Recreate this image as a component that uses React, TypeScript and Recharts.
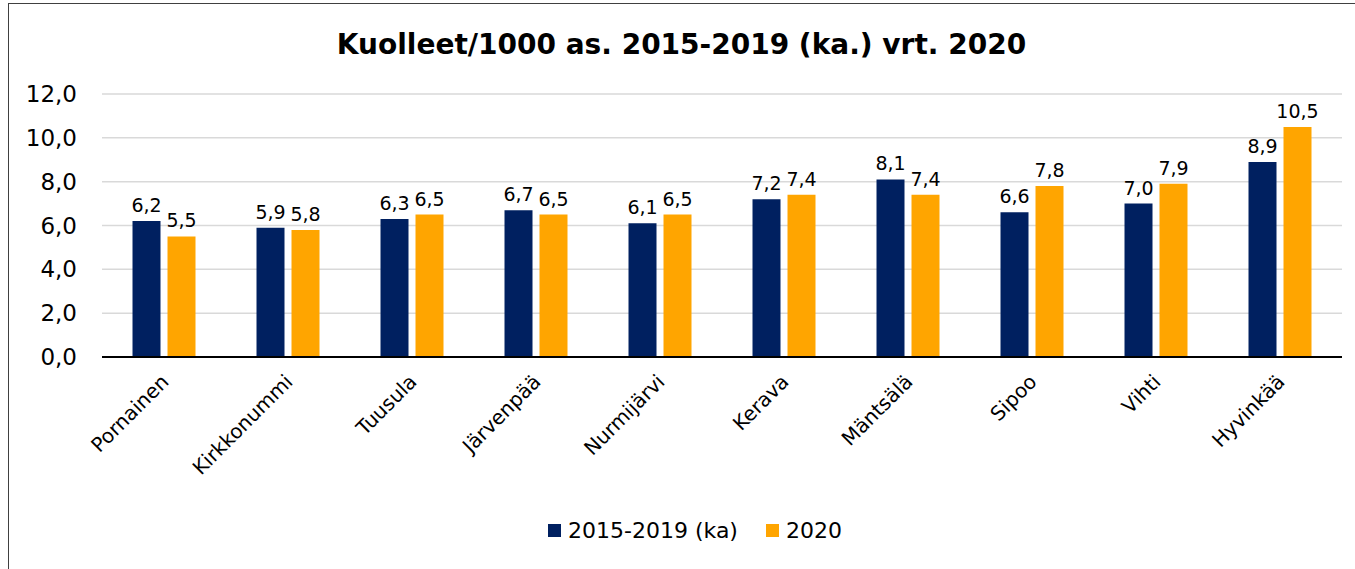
import React from "react";
import { BarChart, Bar, XAxis, YAxis, CartesianGrid, Legend, LabelList } from "recharts";

const categories = ["Pornainen", "Kirkkonummi", "Tuusula", "Järvenpää", "Nurmijärvi", "Kerava", "Mäntsälä", "Sipoo", "Vihti", "Hyvinkää"];
const avg2015_2019 = [6.2, 5.9, 6.3, 6.7, 6.1, 7.2, 8.1, 6.6, 7.0, 8.9];
const values2020 = [5.5, 5.8, 6.5, 6.5, 6.5, 7.4, 7.4, 7.8, 7.9, 10.5];
const yTicks = [0, 2, 4, 6, 8, 10, 12];
const seriesNames = ["2015-2019 (ka)", "2020"];

const data = categories.map((name, i) => ({ name, a: avg2015_2019[i], b: values2020[i] }));

const FONT = "'DejaVu Sans', Tahoma, sans-serif";
const NAVY = "#002060";
const ORANGE = "#FFA500";

const fmt = (v: any) => Number(v).toFixed(1).replace(".", ",");

const XTick = (props: any) => {
  const { x, y, payload } = props;
  const tx = x + 6;
  const ty = y + 18;
  return (
    <text
      x={tx}
      y={ty}
      transform={`rotate(-45, ${tx}, ${ty})`}
      textAnchor="end"
      fontSize={20}
      fontFamily={FONT}
      fill="#000"
    >
      {payload.value}
    </text>
  );
};

const LegendContent = () => (
  <div style={{ display: "flex", justifyContent: "center", alignItems: "center", fontFamily: FONT, fontSize: 22, color: "#000", height: 30, paddingLeft: 40 }}>
    {[NAVY, ORANGE].map((c, i) => (
      <div key={i} style={{ display: "flex", alignItems: "center", marginRight: i === 0 ? 28 : 0 }}>
        <span style={{ display: "inline-block", width: 13, height: 13, background: c, marginRight: 7 }} />
        <span>{seriesNames[i]}</span>
      </div>
    ))}
  </div>
);

export default function App() {
  return (
    <div style={{ position: "absolute", top: 3, left: 8, width: 1347, height: 566, overflow: "hidden" }}>
      <div style={{ position: "absolute", left: 0, top: 0, width: 1400, height: 620, border: "1.5px solid #404040", boxSizing: "border-box" }} />
      <div style={{ position: "absolute", left: 0, top: 25, width: 1347, textAlign: "center", fontFamily: FONT, fontWeight: "bold", fontSize: 28, color: "#000" }}>
        Kuolleet/1000 as. 2015-2019 (ka.) vrt. 2020
      </div>
      <div style={{ position: "absolute", left: 0, top: 0 }}>
        <BarChart width={1347} height={566} data={data} margin={{ top: 91, right: 13, left: 0, bottom: 24 }} barGap={7} barCategoryGap="24.6%">
          <CartesianGrid vertical={false} stroke="#d9d9d9" strokeWidth={1.5} />
          <XAxis dataKey="name" height={158} tickLine={false} axisLine={{ stroke: "#000", strokeWidth: 2 }} tick={<XTick />} interval={0} />
          <YAxis width={94} domain={[0, 12]} ticks={yTicks} tickFormatter={fmt} axisLine={false} tickLine={false} tickMargin={19} tick={{ fontSize: 23, fontFamily: FONT, fill: "#000" }} />
          <Legend verticalAlign="bottom" content={<LegendContent />} />
          <Bar dataKey="a" name={seriesNames[0]} fill={NAVY} isAnimationActive={false}>
            <LabelList dataKey="a" position="top" offset={9} formatter={fmt} style={{ fontSize: 19, fontFamily: FONT, fill: "#000" }} />
          </Bar>
          <Bar dataKey="b" name={seriesNames[1]} fill={ORANGE} isAnimationActive={false}>
            <LabelList dataKey="b" position="top" offset={9} formatter={fmt} style={{ fontSize: 19, fontFamily: FONT, fill: "#000" }} />
          </Bar>
        </BarChart>
      </div>
    </div>
  );
}
